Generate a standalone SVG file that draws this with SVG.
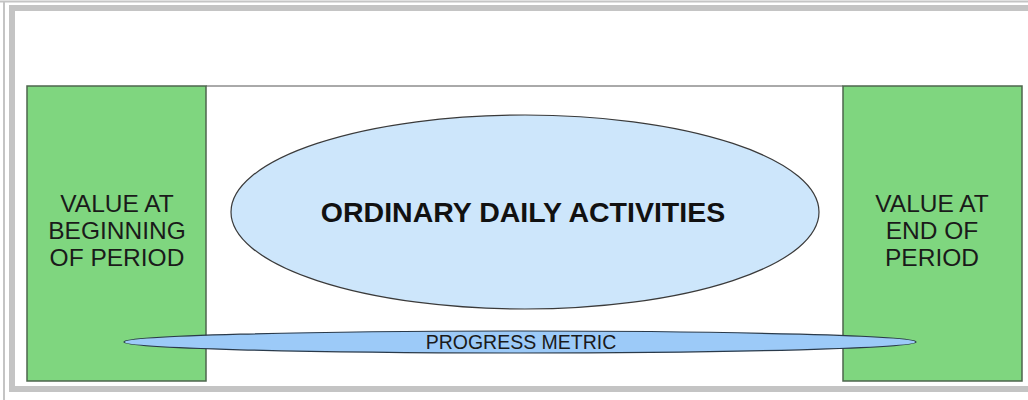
<svg xmlns="http://www.w3.org/2000/svg" width="1028" height="400" viewBox="0 0 1028 400">
<defs>
<style>
.box{fill:#7fd67f;stroke:#4d654d;stroke-width:1.5}
.lbl{font-family:"Liberation Sans",Arial,sans-serif;font-size:24.5px;fill:#1a1a1a;text-anchor:middle}
.frame{fill:none;stroke:#c4c4c4}
</style>
</defs>
<rect width="1028" height="400" fill="#ffffff"/>
<g id="frame">
<line class="frame" x1="0" y1="1.5" x2="1028" y2="1.5" stroke-width="2"/>
<line class="frame" x1="4" y1="1" x2="4" y2="400" stroke-width="2"/>
<path d="M9,5 H1028 V11 H15 V386 H1028 V392 H9 Z" fill="#c4c4c4"/>
<line x1="206" y1="86" x2="843" y2="86" stroke="#555" stroke-width="1"/>
</g>
<g id="begin">
<rect class="box" x="27" y="86" width="179" height="295"/>
<text class="lbl" x="117" y="212">VALUE AT</text>
<text class="lbl" x="117" y="239">BEGINNING</text>
<text class="lbl" x="117" y="266">OF PERIOD</text>
</g>
<g id="end">
<rect class="box" x="843" y="86" width="179" height="295"/>
<text class="lbl" x="932" y="212">VALUE AT</text>
<text class="lbl" x="932" y="239">END OF</text>
<text class="lbl" x="932" y="266">PERIOD</text>
</g>
<g id="activities">
<ellipse cx="525" cy="212" rx="294" ry="97" fill="#cde6fb" stroke="#3a3a3a" stroke-width="1.2"/>
<text x="523" y="222" font-family="'Liberation Sans',Arial,sans-serif" font-size="28.5" font-weight="bold" fill="#111" text-anchor="middle">ORDINARY DAILY ACTIVITIES</text>
</g>
<g id="progress">
<ellipse cx="520" cy="342" rx="396" ry="11" fill="#9ccaf8" stroke="#2a3a4a" stroke-width="1.2"/>
<text x="521" y="349" font-family="'Liberation Sans',Arial,sans-serif" font-size="19.5" fill="#1a1a1a" text-anchor="middle">PROGRESS METRIC</text>
</g>
<g id="connectors"/>
</svg>
